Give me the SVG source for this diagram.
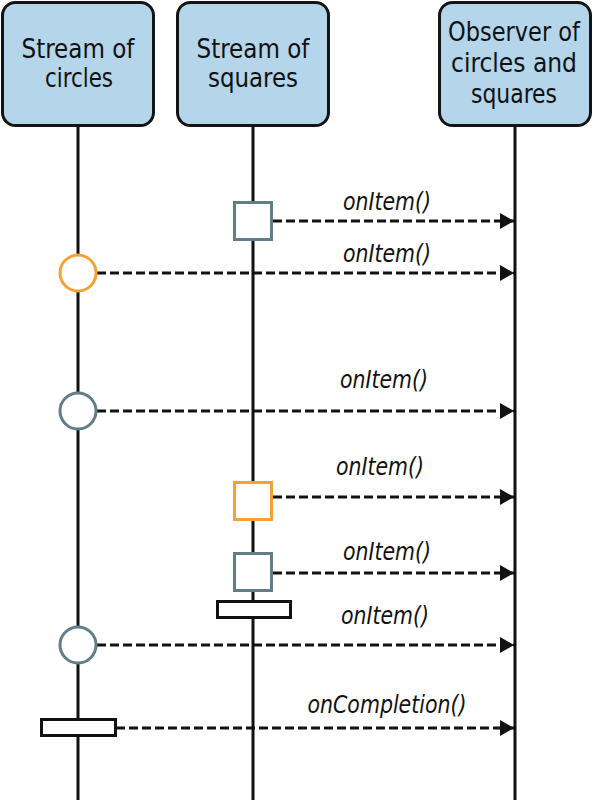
<svg xmlns="http://www.w3.org/2000/svg" width="593" height="800" viewBox="0 0 593 800">
<defs>
<style>
.box{fill:#b4d5ea;stroke:#141414;stroke-width:3}
.hd{font-family:"Liberation Sans Narrow","DejaVu Sans Condensed","Liberation Sans",sans-serif;font-size:26px;fill:#111;text-anchor:middle}
.life{stroke:#111;stroke-width:3;fill:none}
.msg{stroke:#111;stroke-width:3;stroke-dasharray:9 4;fill:none}
.lbl{font-family:"Liberation Sans Narrow","DejaVu Sans Condensed","Liberation Sans",sans-serif;font-style:italic;font-size:25px;fill:#111;text-anchor:middle}
.gray{fill:#fff;stroke:#5f7e87;stroke-width:3}
.orange{fill:#fff;stroke:#f7a033;stroke-width:3}
.bar{fill:#fff;stroke:#111;stroke-width:3}
</style>
<marker id="ah" viewBox="0 0 14 16" refX="14" refY="8" markerWidth="14" markerHeight="16" markerUnits="userSpaceOnUse" orient="auto">
<path d="M0,0 L14,8 L0,16 z" fill="#111"/>
</marker>
</defs>
<rect width="593" height="800" fill="#fff"/>
<g id="lifelines">
<line class="life" x1="78" y1="126" x2="78" y2="800"/>
<line class="life" x1="253" y1="126" x2="253" y2="800"/>
<line class="life" x1="515" y1="126" x2="515" y2="800"/>
</g>
<g id="node-circles">
<rect class="box" x="2.5" y="2.5" width="151" height="123" rx="13"/>
<text class="hd" x="78" y="58" textLength="113" lengthAdjust="spacingAndGlyphs">Stream of</text>
<text class="hd" x="79" y="87" textLength="68" lengthAdjust="spacingAndGlyphs">circles</text>
</g>
<g id="node-squares">
<rect class="box" x="177.5" y="2.5" width="151" height="123" rx="13"/>
<text class="hd" x="253" y="58" textLength="113" lengthAdjust="spacingAndGlyphs">Stream of</text>
<text class="hd" x="253" y="87" textLength="90" lengthAdjust="spacingAndGlyphs">squares</text>
</g>
<g id="node-observer">
<rect class="box" x="439.5" y="2.5" width="151" height="123" rx="13"/>
<text class="hd" x="514" y="41" textLength="132" lengthAdjust="spacingAndGlyphs">Observer of</text>
<text class="hd" x="514" y="72" textLength="126" lengthAdjust="spacingAndGlyphs">circles and</text>
<text class="hd" x="514" y="103" textLength="86" lengthAdjust="spacingAndGlyphs">squares</text>
</g>
<g id="connectors">
<line class="msg" x1="273" y1="221" x2="514" y2="221" marker-end="url(#ah)"/>
<line class="msg" x1="97" y1="273" x2="514" y2="273" marker-end="url(#ah)"/>
<line class="msg" x1="97" y1="411" x2="514" y2="411" marker-end="url(#ah)"/>
<line class="msg" x1="273" y1="497" x2="514" y2="497" marker-end="url(#ah)"/>
<line class="msg" x1="273" y1="573" x2="514" y2="573" marker-end="url(#ah)"/>
<line class="msg" x1="97" y1="645" x2="514" y2="645" marker-end="url(#ah)"/>
<line class="msg" x1="116" y1="728" x2="514" y2="728" marker-end="url(#ah)"/>
<text class="lbl" x="387" y="210" textLength="88" lengthAdjust="spacingAndGlyphs">onItem()</text>
<text class="lbl" x="387" y="262" textLength="88" lengthAdjust="spacingAndGlyphs">onItem()</text>
<text class="lbl" x="384" y="388" textLength="88" lengthAdjust="spacingAndGlyphs">onItem()</text>
<text class="lbl" x="380" y="475" textLength="88" lengthAdjust="spacingAndGlyphs">onItem()</text>
<text class="lbl" x="387" y="560" textLength="88" lengthAdjust="spacingAndGlyphs">onItem()</text>
<text class="lbl" x="385" y="624" textLength="88" lengthAdjust="spacingAndGlyphs">onItem()</text>
<text class="lbl" x="387" y="713" textLength="159" lengthAdjust="spacingAndGlyphs">onCompletion()</text>
</g>
<g id="event-square-1"><rect class="gray" x="234.5" y="202.5" width="37" height="37"/></g>
<g id="event-circle-1"><circle class="orange" cx="78" cy="273" r="18"/></g>
<g id="event-circle-2"><circle class="gray" cx="78" cy="411" r="18"/></g>
<g id="event-square-2"><rect class="orange" x="234.5" y="482.5" width="37" height="37"/></g>
<g id="event-square-3"><rect class="gray" x="234.5" y="553.5" width="37" height="37"/></g>
<g id="completion-squares"><rect class="bar" x="217.5" y="601.5" width="73" height="16"/></g>
<g id="event-circle-3"><circle class="gray" cx="78" cy="645" r="18"/></g>
<g id="completion-circles"><rect class="bar" x="41.5" y="719.5" width="74" height="16"/></g>
</svg>
